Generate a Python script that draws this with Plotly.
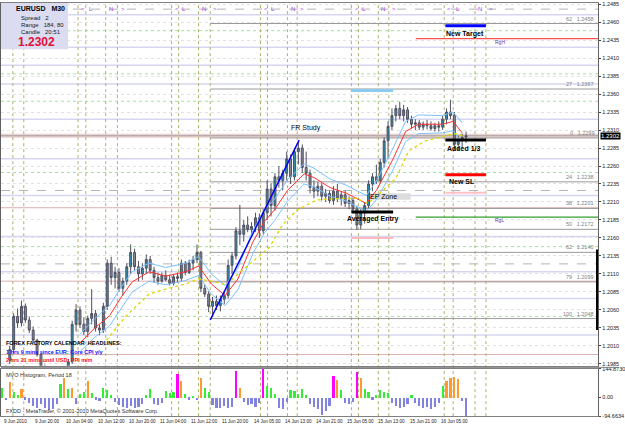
import plotly.graph_objects as go

W, H = 625, 429

# ---------------- data (EURUSD; one entry per hour) ----------------
opens = [1.1970,1.1975,1.1990,1.2005,1.2051,1.2042,1.2065,1.2046,1.2032,1.2018,
         1.1998,1.1980,1.1968,1.1960,1.1966,1.1972,1.1970,1.1978,1.1988,1.2040,
         1.2060,1.2040,1.2030,1.2048,1.2055,1.2035,1.2032,1.2065,1.2125,1.2105,
         1.2112,1.2090,1.2100,1.2120,1.2140,1.2120,1.2110,1.2118,1.2130,1.2115,
         1.2105,1.2100,1.2108,1.2102,1.2097,1.2106,1.2104,1.2125,1.2112,1.2125,
         1.2130,1.2140,1.2090,1.2082,1.2065,1.2072,1.2066,1.2075,1.2080,1.2122,
         1.2135,1.2170,1.2165,1.2178,1.2172,1.2176,1.2188,1.2170,1.2195,1.2228,
         1.2205,1.2245,1.2240,1.2250,1.2270,1.2245,1.2280,1.2285,1.2258,1.2250,
         1.2230,1.2225,1.2232,1.2218,1.2222,1.2212,1.2225,1.2215,1.2220,1.2208,
         1.2212,1.2200,1.2178,1.2195,1.2205,1.2235,1.2245,1.2240,1.2265,1.2295,
         1.2315,1.2330,1.2340,1.2330,1.2338,1.2325,1.2318,1.2320,1.2314,1.2318,
         1.2316,1.2312,1.2316,1.2314,1.2325,1.2335,1.2330,1.2290,1.2296,1.2300]
highs = [1.1980,1.1983,1.2010,1.2055,1.2062,1.2073,1.2069,1.2051,1.2037,1.2020,
         1.2000,1.1984,1.1975,1.1972,1.1978,1.1980,1.1982,1.1992,1.2045,1.2068,
         1.2065,1.2050,1.2052,1.2089,1.2060,1.2040,1.2070,1.2130,1.2134,1.2120,
         1.2118,1.2105,1.2125,1.2151,1.2145,1.2128,1.2125,1.2137,1.2135,1.2120,
         1.2112,1.2112,1.2115,1.2109,1.2110,1.2112,1.2130,1.2128,1.2130,1.2135,
         1.2151,1.2142,1.2095,1.2086,1.2078,1.2080,1.2080,1.2085,1.2130,1.2140,
         1.2175,1.2206,1.2185,1.2190,1.2182,1.2195,1.2194,1.2200,1.2240,1.2236,
         1.2250,1.2260,1.2255,1.2280,1.2276,1.2285,1.2294,1.2290,1.2280,1.2255,
         1.2240,1.2238,1.2236,1.2228,1.2226,1.2232,1.2235,1.2225,1.2226,1.2218,
         1.2216,1.2205,1.2200,1.2210,1.2240,1.2250,1.2262,1.2270,1.2300,1.2322,
         1.2340,1.2345,1.2349,1.2345,1.2342,1.2330,1.2325,1.2324,1.2322,1.2324,
         1.2322,1.2320,1.2322,1.2330,1.2340,1.2352,1.2335,1.2302,1.2305,1.2308]
lows = [1.1960,1.1965,1.1985,1.2000,1.2035,1.2037,1.2042,1.2028,1.2014,1.1995,
        1.1975,1.1962,1.1955,1.1952,1.1958,1.1962,1.1965,1.1972,1.1985,1.2030,
        1.2035,1.2025,1.2022,1.2040,1.2030,1.2025,1.2028,1.2060,1.2095,1.2090,
        1.2085,1.2080,1.2095,1.2110,1.2115,1.2100,1.2102,1.2110,1.2110,1.2098,
        1.2095,1.2098,1.2100,1.2094,1.2094,1.2098,1.2100,1.2108,1.2110,1.2115,
        1.2125,1.2085,1.2078,1.2057,1.2050,1.2060,1.2058,1.2068,1.2076,1.2110,
        1.2130,1.2150,1.2155,1.2168,1.2165,1.2168,1.2160,1.2165,1.2185,1.2190,
        1.2198,1.2230,1.2226,1.2240,1.2235,1.2240,1.2262,1.2250,1.2240,1.2222,
        1.2215,1.2218,1.2212,1.2210,1.2208,1.2206,1.2210,1.2205,1.2203,1.2200,
        1.2195,1.2171,1.2172,1.2180,1.2200,1.2225,1.2235,1.2236,1.2258,1.2270,
        1.2310,1.2322,1.2325,1.2322,1.2320,1.2312,1.2310,1.2310,1.2310,1.2311,
        1.2309,1.2308,1.2308,1.2310,1.2318,1.2325,1.2281,1.2282,1.2285,1.2292]
closes = [1.1975,1.1980,1.2005,1.2051,1.2042,1.2065,1.2046,1.2032,1.2018,1.1998,
          1.1980,1.1968,1.1960,1.1966,1.1972,1.1970,1.1978,1.1988,1.2040,1.2060,
          1.2040,1.2030,1.2048,1.2055,1.2035,1.2032,1.2065,1.2125,1.2105,1.2112,
          1.2090,1.2100,1.2120,1.2140,1.2120,1.2110,1.2118,1.2130,1.2115,1.2105,
          1.2100,1.2108,1.2102,1.2097,1.2106,1.2104,1.2125,1.2112,1.2125,1.2130,
          1.2140,1.2090,1.2082,1.2065,1.2072,1.2066,1.2075,1.2080,1.2122,1.2135,
          1.2170,1.2165,1.2178,1.2172,1.2176,1.2188,1.2170,1.2195,1.2228,1.2205,
          1.2245,1.2240,1.2250,1.2270,1.2245,1.2280,1.2285,1.2258,1.2250,1.2230,
          1.2225,1.2232,1.2218,1.2222,1.2212,1.2225,1.2215,1.2220,1.2208,1.2212,
          1.2200,1.2178,1.2195,1.2205,1.2235,1.2245,1.2240,1.2265,1.2295,1.2315,
          1.2330,1.2340,1.2330,1.2338,1.2325,1.2318,1.2320,1.2314,1.2318,1.2316,
          1.2312,1.2316,1.2314,1.2325,1.2335,1.2330,1.2290,1.2296,1.2300,1.2302]

hist_vals = [49,-12,78,30,15,45,-10,-25,-40,-50,
             -30,-55,-64,-60,-30,70,100,45,50,-30,
             20,30,84,25,-10,-15,50,40,15,-20,
             -35,-45,-50,-40,-55,-45,-30,14,45,-30,
             -38,-25,35,25,30,118,84,20,-10,10,
             -12,101,50,30,-35,-50,-55,-40,-50,-45,
             135,49,-20,-38,-30,-45,-25,144.8,60,50,
             20,-50,-56,-20,40,35,20,45,15,-30,
             -45,-60,-90,-70,-40,110,90,40,-25,-30,
             -20,130,101,45,30,-10,15,40,30,25,
             -25,-40,-55,-45,-30,15,-25,-40,-50,-45,
             -60,-45,-25,60,84,100,105,95,-15,-94.6]
hist_kind = ["n","n","o","n","n","o","n","n","n","n",
             "n","n","n","n","n","n","o","n","o","n",
             "n","n","o","n","n","n","n","n","n","n",
             "n","n","n","n","n","n","n","n","n","n",
             "n","n","n","n","n","m","o","n","n","n",
             "n","o","n","n","n","n","n","n","n","n",
             "m","o","n","n","n","n","n","m","n","n",
             "n","n","n","n","n","n","n","n","n","n",
             "n","n","n","n","n","m","o","n","n","n",
             "n","m","o","n","n","n","n","n","n","n",
             "n","n","n","n","n","n","n","n","n","n",
             "n","n","n","n","o","o","o","o","n","n"]

# moving averages (hour index, price)
ma_hours = [20.0,23.8,27.6,30.6,33.4,37.7,42.0,47.1,50.4,53.7,57.2,60.5,64.3,67.3,69.9,
            73.2,77.5,80.0,84.1,88.4,91.6,93.4,96.0,100.3,103.5,106.8,112.9,115.7,118.0]
ma_red = [1.2014,1.2035,1.2052,1.2078,1.2099,1.2113,1.2107,1.2113,1.2121,1.2096,1.2080,1.2103,
          1.2154,1.2183,1.2199,1.2226,1.2249,1.2244,1.2230,1.2222,1.2213,1.2208,1.2226,1.2270,
          1.2308,1.2318,1.2318,1.2322,1.2306]
band_up = [1.2026,1.2048,1.2066,1.2092,1.2113,1.2125,1.2119,1.2125,1.2134,1.2110,1.2094,1.2118,
           1.2170,1.2199,1.2214,1.2241,1.2263,1.2257,1.2242,1.2233,1.2224,1.2219,1.2239,1.2285,
           1.2322,1.2331,1.2330,1.2335,1.2320]
band_dn = [1.2002,1.2022,1.2038,1.2063,1.2085,1.2100,1.2095,1.2101,1.2108,1.2082,1.2066,1.2088,
           1.2138,1.2167,1.2184,1.2211,1.2235,1.2231,1.2218,1.2211,1.2202,1.2197,1.2213,1.2255,
           1.2294,1.2305,1.2306,1.2309,1.2292]
slow_hours = [26.8,31.9,37.7,42.0,47.1,50.4,53.7,57.5,60.5,64.3,68.6,71.9,75.7,80.8,87.1,
              90.9,93.9,97.7,101.0,104.3,108.6,113.7,116.2,118.7]
ma_slow = [1.2018,1.2052,1.2082,1.2089,1.2096,1.2103,1.2100,1.2095,1.2110,1.2127,1.2147,1.2178,
           1.2199,1.2213,1.2215,1.2215,1.2208,1.2226,1.2243,1.2281,1.2295,1.2302,1.2305,1.2301]

time_labels = ["9 Jun 2010","9 Jun 20:00","10 Jun 04:00","10 Jun 12:00","10 Jun 20:00",
               "11 Jun 04:00","11 Jun 12:00","11 Jun 20:00","14 Jun 05:00","14 Jun 13:00",
               "14 Jun 21:00","15 Jun 05:00","15 Jun 13:00","15 Jun 21:00","16 Jun 05:00"]
time_label_hours = [0,8,16,24,32,40,48,56,64,72,80,88,96,104,112]
price_ticks = [1.1985,1.2010,1.2035,1.2060,1.2085,1.2110,1.2135,1.2160,1.2185,1.2210,1.2235,
               1.2260,1.2285,1.2310,1.2335,1.2360,1.2385,1.2410,1.2435,1.2460,1.2485]
last_price = 1.2302

# session markers (hour index): first two belong to 9 Jun
session_hours = [2.8,5.6,19.5,21.5,26.6,29.6,43.5,45.3,50.4,53.4,66.3,68.1,73.2,75.7,
                 89.6,91.4,96.5,99.2,113.4,115.7,121.3,124.1]
session_marks = ["N",">","<","L","N",">","<","L","N",">","<","L","N",">",
                 "<","L","N",">","<","L","N",">"]

# Fibonacci study (FR Study) from low to high
fr_start = (53.4, 1.2046)
fr_end = (76.2, 1.2296)
fib_names = ["0","24","38","50","62","79","100","27","62"]
fib_prices = [1.2299,1.2238,1.2201,1.2172,1.2140,1.2099,1.2048,1.2367,1.2458]

# background levels
lav_levels = [1.2470,1.2425,1.2400,1.2374,1.2325,1.2270,1.2219,1.2162,1.2113,1.2076,1.2025]
green_levels = [1.2448,1.2388,1.2350,1.2251,1.2148,1.2051]
pink_levels = [1.2202,1.2100,1.1998]
grey_dash_levels = [1.2478,1.2226,1.2124]

# trade plan objects
rgh_price, rgl_price = 1.2437, 1.2189
plan_start_h = 106.1

# ---------------- figure ----------------
fig = go.Figure()
x_right = 605 / W
main_dom = [1 - 368 / H, 1]
ind_dom = [1 - 419 / H, 1 - 371 / H]
FONT = "Liberation Sans, Arial, sans-serif"

shapes = []
def hline(price, color, width=1, dash="solid", x0=0, x1=1, xref="x domain"):
    shapes.append(dict(type="line", xref=xref, yref="y", x0=x0, x1=x1, y0=price, y1=price,
                       line=dict(color=color, width=width, dash=dash), layer="below"))

for p in lav_levels:
    hline(p, "#d6d6f2", 1.5)
for p in green_levels:
    hline(p, "#9fe39f", 1, "dot")
for p in grey_dash_levels:
    hline(p, "#b4b4b4", 1, "dash")
for p in pink_levels:
    hline(p, "#dcb0b0", 1)
hline(last_price, "#ecd0d0", 4)
hline(last_price, "#a0a0a0", 1)
for name, p in zip(fib_names, fib_prices):
    hline(p, "#9a9a9a", 1, x0=fr_start[0], x1=152.9, xref="x")

# session vertical lines
for hh in session_hours:
    shapes.append(dict(type="line", xref="x", yref="paper", x0=hh, x1=hh, y0=ind_dom[0], y1=1,
                       line=dict(color="#b0b070", width=1, dash="dot"), layer="below"))

# trade plan horizontal objects
def seg(h0, h1, price, color, width):
    shapes.append(dict(type="line", xref="x", yref="y", x0=h0, x1=h1, y0=price, y1=price,
                       line=dict(color=color, width=width), layer="above"))
hline(rgh_price, "#ff5050", 1.2, x0=plan_start_h, x1=152.9, xref="x")
hline(rgl_price, "#30a030", 1.2, x0=plan_start_h, x1=152.9, xref="x")
seg(113.7, 124.1, 1.2455, "#0000ff", 3)
seg(113.7, 124.1, 1.2296, "#000000", 3)
seg(113.7, 124.1, 1.2248, "#ff0000", 3)
seg(113.7, 124.1, 1.2223, "#ffc0c8", 2)
seg(89.6, 100.3, 1.2365, "#8ccaf0", 3)
seg(89.6, 100.3, 1.2196, "#000000", 3)
seg(89.6, 100.3, 1.2160, "#ffb8c0", 2)
shapes.append(dict(type="rect", xref="x", yref="y", x0=93.9, x1=104.8, y0=1.2213, y1=1.2222,
                   fillcolor="#dcdcdc", line=dict(width=0), layer="below"))
# black mark at the right edge
shapes.append(dict(type="line", xref="paper", yref="y", x0=x_right - 0.002, x1=x_right - 0.002,
                   y0=1.2032, y1=1.2144, line=dict(color="#000000", width=2)))
# info box
shapes.append(dict(type="rect", xref="paper", yref="paper", x0=0, x1=68 / W, y0=1 - 47 / H, y1=1,
                   fillcolor="#dcdcf0", line=dict(width=0), layer="above"))
# panel separator
shapes.append(dict(type="line", xref="paper", yref="paper", x0=0, x1=1, y0=1 - 369.5 / H,
                   y1=1 - 369.5 / H, line=dict(color="#808080", width=1)))

hours = list(range(len(opens)))
fig.add_trace(go.Candlestick(
    x=hours, open=opens, high=highs, low=lows, close=closes,
    increasing=dict(fillcolor="#2f8fae", line=dict(color="#505060", width=1)),
    decreasing=dict(fillcolor="#8a8a96", line=dict(color="#505060", width=1)),
    whiskerwidth=0, xaxis="x", yaxis="y", showlegend=False, hoverinfo="skip"))

fig.add_trace(go.Scatter(x=ma_hours, y=band_up, mode="lines", line=dict(color="#7cc0ff", width=1),
                         xaxis="x", yaxis="y", showlegend=False, hoverinfo="skip"))
fig.add_trace(go.Scatter(x=ma_hours, y=band_dn, mode="lines", line=dict(color="#7cc0ff", width=1),
                         xaxis="x", yaxis="y", showlegend=False, hoverinfo="skip"))
fig.add_trace(go.Scatter(x=ma_hours, y=ma_red, mode="lines", line=dict(color="#ff3030", width=1),
                         xaxis="x", yaxis="y", showlegend=False, hoverinfo="skip"))
fig.add_trace(go.Scatter(x=slow_hours, y=ma_slow, mode="lines",
                         line=dict(color="#d8d800", width=1.3, dash="dot"),
                         xaxis="x", yaxis="y", showlegend=False, hoverinfo="skip"))
fig.add_trace(go.Scatter(x=[fr_start[0], fr_end[0]], y=[fr_start[1], fr_end[1]], mode="lines",
                         line=dict(color="#0000ee", width=1.5),
                         xaxis="x", yaxis="y", showlegend=False, hoverinfo="skip"))

kind_color = {"o": "#ff9a30", "m": "#ff00ff"}
hist_colors = [kind_color.get(k, "#33ee33" if v >= 0 else "#8282e0") for v, k in zip(hist_vals, hist_kind)]
fig.add_trace(go.Bar(x=hours, y=hist_vals, marker=dict(color=hist_colors, line=dict(width=0)),
                     width=0.55, xaxis="x2", yaxis="y2", showlegend=False, hoverinfo="skip"))

ann = []
def text(x, y, s, size=7, color="#000000", xref="x", yref="y", xanchor="center", yanchor="middle",
         bold=False, bg=None):
    d = dict(x=x, y=y, xref=xref, yref=yref, text=("<b>%s</b>" % s) if bold else s, showarrow=False,
             xanchor=xanchor, yanchor=yanchor, font=dict(size=size, color=color, family=FONT))
    if bg:
        d["bgcolor"] = bg
        d["borderpad"] = 0
    ann.append(d)

# fib labels
for name, p in zip(fib_names, fib_prices):
    text(0.965, p, "%s   %.4f" % (name, p), size=5.5, color="#808080", xref="paper",
         xanchor="right", yanchor="bottom")
text(78.0, 1.2305, "FR Study", size=7, yanchor="bottom")
text(118.7, 1.2443, "New Target", size=7, bold=True)
text(118.5, 1.2285, "Added 1/3", size=7, bold=True)
text(117.9, 1.2239, "New SL", size=7, bold=True)
text(95.2, 1.2187, "Averaged Entry", size=7, bold=True)
text(97.8, 1.2217, "EP Zone", size=7)
text(127.6, 1.2432, "RgH", size=5, color="#6040a0")
text(127.6, 1.2185, "RgL", size=5, color="#6040a0")

# session marks at top
for hh, m in zip(session_hours, session_marks):
    if hh > 10:
        text(hh + 0.3, 1 - 6 / H, m, size=6, color="#a040e0", yref="paper", xanchor="left")

# info box text
text(13 / W, 1 - 6 / H, "EURUSD   M30", size=7, xref="paper", yref="paper", xanchor="left", bold=True)
text(18 / W, 1 - 15 / H, "Spread   2", size=6, color="#202020", xref="paper", yref="paper", xanchor="left")
text(18 / W, 1 - 22 / H, "Range   184, 80", size=6, color="#202020", xref="paper", yref="paper", xanchor="left")
text(18 / W, 1 - 29 / H, "Candle   20:51", size=6, color="#202020", xref="paper", yref="paper", xanchor="left")
text(15 / W, 1 - 40 / H, "%.4f" % last_price, size=12, color="#e0103c", xref="paper", yref="paper",
     xanchor="left", bold=True)

# headlines
text(3 / W, 1 - 345 / H, "FOREX FACTORY CALENDAR  HEADLINES:", size=5.5, xref="paper", yref="paper",
     xanchor="left", bold=True)
text(3 / W, 1 - 354 / H, "1 hrs 9 mins since EUR: Core CPI y/y", size=5.5, color="#1010ff", xref="paper",
     yref="paper", xanchor="left", bold=True)
text(3 / W, 1 - 362 / H, "2 hrs 21 mins until USD: PPI m/m", size=5.5, color="#ff1010", xref="paper",
     yref="paper", xanchor="left", bold=True)

# indicator panel texts
text(3 / W, 1 - 377 / H, "MVO Histogram, Period 18", size=5.5, color="#303030", xref="paper", yref="paper",
     xanchor="left")
text(3 / W, 1 - 414 / H, "FXDD - MetaTrader, \u00a9 2001-2010 MetaQuotes Software Corp.", size=5.5,
     color="#303030", xref="paper", yref="paper", xanchor="left")

# current price tag
text(x_right + 0.003, last_price, "%.4f" % last_price, size=6, color="#ffffff", xref="paper",
     xanchor="left", bg="#000000")

# time labels
for hh, lab in zip(time_label_hours, time_labels):
    text(hh, ind_dom[0] - 1 / H, lab, size=4.6, color="#202020", xref="x2", yref="paper",
         xanchor="left", yanchor="top")

xr = [-0.25, 152.9]
fig.update_layout(
    width=W, height=H, margin=dict(l=0, r=0, t=0, b=0),
    paper_bgcolor="#ffffff", plot_bgcolor="#ffffff",
    shapes=shapes, annotations=ann, bargap=0,
    xaxis=dict(domain=[0, x_right], range=xr, showticklabels=False, showgrid=False, zeroline=False,
               rangeslider=dict(visible=False), anchor="y", showline=True, mirror=True,
               linecolor="#808080", ticks=""),
    yaxis=dict(domain=main_dom, range=[1.19823, 1.24865], side="right", tickvals=price_ticks,
               ticktext=["%.4f" % t for t in price_ticks], tickfont=dict(size=5.5, color="#202020",
               family=FONT), ticks="outside", ticklen=2,
               tickcolor="#404040", showgrid=True, gridcolor="#e2e2e2", griddash="dot",
               zeroline=False, showline=True, mirror=True, linecolor="#606060", anchor="x"),
    xaxis2=dict(domain=[0, x_right], range=xr, showticklabels=False, showgrid=False, zeroline=False,
                anchor="y2", showline=True, mirror=True, linecolor="#808080", ticks=""),
    yaxis2=dict(domain=ind_dom, range=[-94.6634, 144.873], side="right",
                tickvals=[144.873, 0, -94.6634], ticktext=["144.8730", "0.00", "-94.6634"],
                tickfont=dict(size=5.5, color="#202020", family=FONT),
                ticks="outside", ticklen=2, showgrid=False, zeroline=False, showline=True, mirror=True,
                linecolor="#606060", anchor="x2"),
)
fig.write_html("out.html")
